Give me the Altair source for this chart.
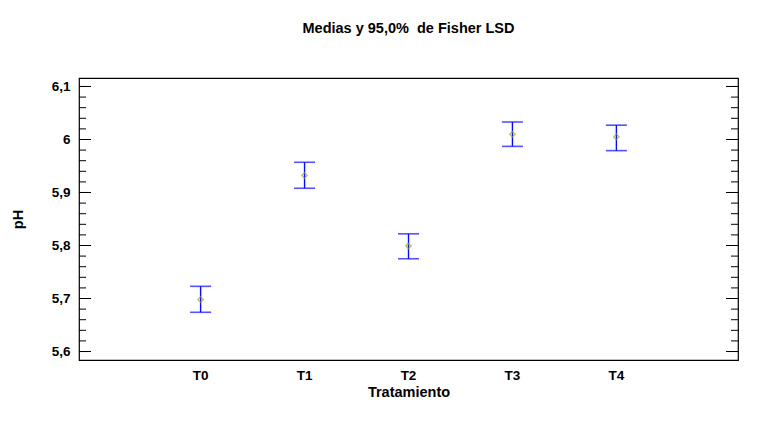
import altair as alt
import pandas as pd

# data
treatments = ["T0", "T1", "T2", "T3", "T4"]
means = [5.698, 5.932, 5.799, 6.010, 6.005]
lower = [5.674, 5.908, 5.775, 5.987, 5.979]
upper = [5.723, 5.957, 5.822, 6.033, 6.027]

major_ticks = [5.6, 5.7, 5.8, 5.9, 6.0, 6.1]
minor_ticks = [round(5.6 + 0.02 * i, 2) for i in range(26)]

df = pd.DataFrame({"Tratamiento": treatments, "pH": means, "lo": lower, "hi": upper})
maj = pd.DataFrame({"t": major_ticks})
mnr = pd.DataFrame({"t": minor_ticks})

W, H = 659, 282
FONT = "Liberation Sans"
BLUE = "#0a0aff"

yscale = alt.Scale(domain=[5.584, 6.116], nice=False, zero=False)
xscale = alt.Scale(type="band", paddingInner=0, paddingOuter=0.67)

yaxis = alt.Axis(title="pH", values=major_ticks, ticks=False, domain=False, grid=False,
                 labelExpr="replace(format(datum.value, '.1~f'), '.', ',')",
                 labelFont=FONT, labelFontSize=13.5, labelFontWeight="bold",
                 labelColor="black", labelPadding=9,
                 titleFont=FONT, titleFontSize=14.5, titleFontWeight="bold",
                 titleColor="black", titleX=-54, titleY=H / 2)

xaxis = alt.Axis(title="Tratamiento", labelAngle=0, ticks=False, domain=False, grid=False,
                 labelFont=FONT, labelFontSize=13.5, labelFontWeight="bold",
                 labelColor="black", labelPadding=8,
                 titleFont=FONT, titleFontSize=14.5, titleFontWeight="bold",
                 titleColor="black", titlePadding=4)

X = alt.X("Tratamiento:N", scale=xscale, sort=treatments, axis=xaxis)

base = alt.Chart(df)

bars = base.mark_rule(color=BLUE, strokeWidth=1.4).encode(
    x=X,
    y=alt.Y("lo:Q", scale=yscale, axis=yaxis),
    y2="hi:Q",
)
caps_lo = base.mark_tick(color=BLUE, thickness=1.6, size=21).encode(
    x=X, y=alt.Y("lo:Q", scale=yscale, axis=yaxis),
)
caps_hi = base.mark_tick(color=BLUE, thickness=1.6, size=21).encode(
    x=X, y=alt.Y("hi:Q", scale=yscale, axis=yaxis),
)
points = base.mark_point(shape="diamond", filled=False, size=30, color="#9c9c20",
                         strokeWidth=1.2).encode(
    x=X, y=alt.Y("pH:Q", scale=yscale, axis=yaxis),
)

def tick_layer(data, x0, x1):
    return alt.Chart(data).mark_rule(color="black", strokeWidth=1).encode(
        y=alt.Y("t:Q", scale=yscale, axis=yaxis),
        x=alt.value(x0), x2=alt.value(x1),
    )

layers = [
    bars, caps_lo, caps_hi, points,
    tick_layer(mnr, 0, 7), tick_layer(mnr, W, W - 7),
    tick_layer(maj, 0, 12), tick_layer(maj, W, W - 12),
]

chart = alt.layer(*layers).properties(
    width=W, height=H,
    title=alt.TitleParams("Medias y 95,0%\u00a0 de Fisher LSD", font=FONT, fontSize=14.5,
                          fontWeight="bold", color="black", anchor="middle", offset=42),
    autosize=alt.AutoSizeParams(type="none"),
    padding={"left": 79, "top": 78, "right": 23, "bottom": 72},
    background="white",
).configure_view(stroke="black", strokeWidth=1.2)

chart.save("out.html", embed_options={"renderer": "svg", "actions": False})
